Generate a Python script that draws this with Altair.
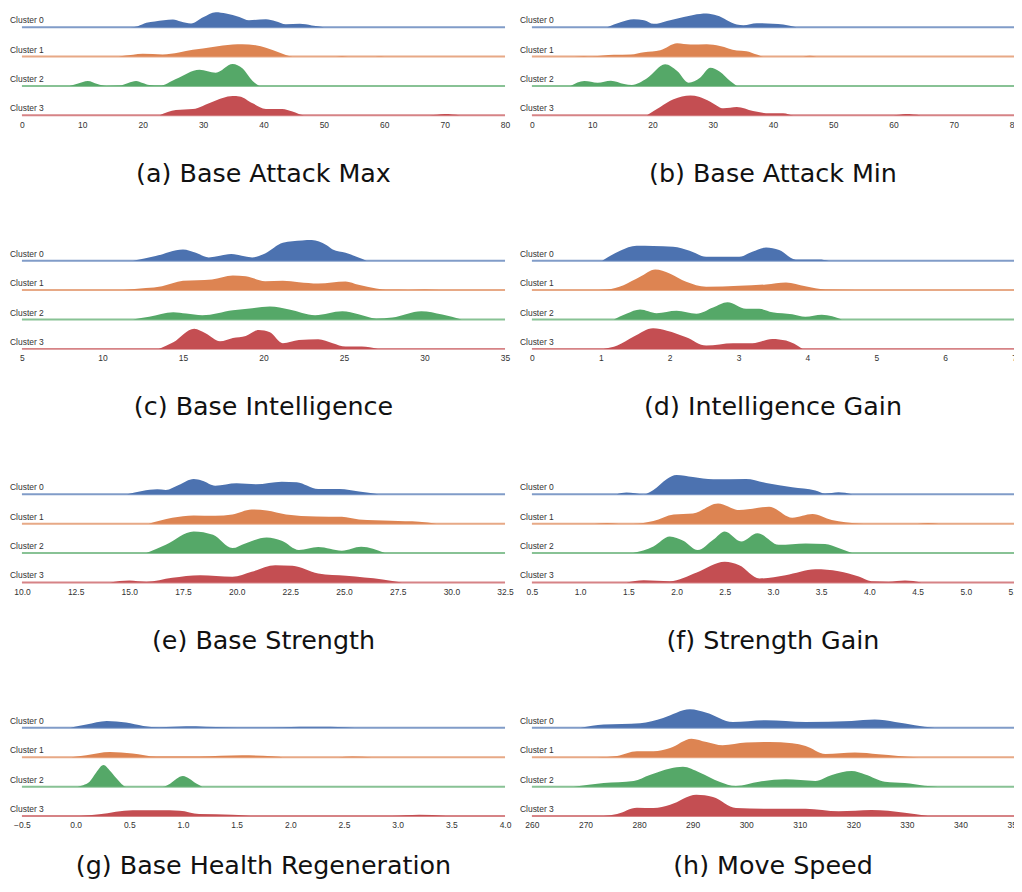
import altair as alt
import pandas as pd

CLUSTERS = ["Cluster 0", "Cluster 1", "Cluster 2", "Cluster 3"]
COLORS = ["#4C72B0", "#DD8452", "#55A868", "#C44E52"]

# ---- (a) Base Attack Max : (value, relative density)
atk_max_c0 = [(18, 0), (19.2, 1), (20.6, 4.3), (22, 5.7), (25, 7.7), (26.3, 5.7), (28, 3.7), (30, 10), (32.1, 15),
              (33.8, 13.7), (36, 10.3), (37.6, 7), (40.4, 8), (42, 6), (43.7, 3), (46, 3.3), (48, 1.7), (50, 0)]
atk_max_c1 = [(16, 0), (18.4, 1.7), (20, 2.7), (23.3, 2), (26, 4), (28.3, 6.7), (31.6, 9.7), (34.9, 12), (36.5, 12.3),
              (38.7, 11.3), (40.4, 8.7), (42.6, 4), (44.8, 0), (52, 0), (53, 0.5), (54, 0), (58, 0), (59, 0.4), (60, 0)]
atk_max_c2 = [(7.9, 0), (9.3, 2.5), (10.9, 5), (12.5, 2), (14, 0), (16.2, 0.3), (17.6, 3), (18.9, 5), (20, 3), (21.1, 1),
              (22.8, 0.3), (25.5, 7), (29.4, 16.3), (32.1, 13.3), (34.9, 22), (36.5, 17.7), (38.2, 5), (39.3, 0)]
atk_max_c3 = [(22.8, 0), (25.5, 5.3), (28.3, 6.3), (31.6, 13.7), (34.9, 19.3), (36, 19), (38.2, 12), (40.4, 6.3),
              (43.1, 6.3), (44.8, 3.7), (46.7, 0), (67.5, 0), (70, 1.3), (72.5, 0)]

# ---- (b) Base Attack Min
atk_min_c0 = [(12.5, 0), (14.7, 5), (16.9, 8), (18.6, 7), (20.2, 3.3), (22.4, 6.3), (25.2, 10.3), (26.8, 12.3), (29, 13.7),
              (30.7, 11.7), (34, 2.7), (35.1, 2), (37.3, 4), (40, 3.3), (41.7, 2.7), (43.9, 0)]
atk_min_c1 = [(7, 0), (8.6, 0.5), (10, 0.2), (13.6, 1.7), (16.4, 2), (18.6, 4.3), (21.3, 6.3), (24.1, 13.3), (26.3, 12),
              (29, 12.3), (31.2, 10.7), (34, 6), (35.6, 5.3), (37.3, 2), (38.4, 0), (45, 0), (46.1, 0.7), (47.2, 0)]
atk_min_c2 = [(6.4, 0), (8.7, 5), (10.9, 3.3), (13.1, 5.3), (15.3, 2), (16.6, 1), (19.1, 7.7), (22.1, 21.7), (24.1, 15),
              (26, 3.3), (27.9, 8.3), (29.6, 18.3), (31.2, 14.3), (32.9, 5), (34, 0)]
atk_min_c3 = [(19.1, 0), (21.3, 8.3), (23.5, 16), (26.3, 20), (27.7, 18.7), (29.6, 13.7), (31.8, 7), (34, 8.3), (36.7, 4.3),
              (39.5, 2), (41.7, 2), (43.4, 0), (60, 0), (62, 1.3), (64.5, 0)]

# ---- (c) Base Intelligence
int_c0 = [(11.9, 0), (13.3, 4.7), (15, 11.3), (15.8, 8), (16.6, 3.3), (18, 6.7), (19.3, 3.3), (20.1, 7.3), (21.2, 18),
          (22.4, 20.3), (23, 20.7), (23.9, 15.7), (24.3, 11.3), (25.1, 8), (25.9, 3.3), (26.4, 0)]
int_c1 = [(11.3, 0), (12.7, 2), (13.7, 4), (15, 9.3), (16.8, 10.7), (18.1, 14.7), (18.9, 14), (20.1, 9), (21.2, 9.3),
          (22.2, 8), (23.4, 6.7), (25.1, 8.7), (25.9, 5.3), (27, 1.7), (27.8, 0.3), (29, 0.2), (30, 0.5), (30.9, 0)]
int_c2 = [(11.9, 0), (12.9, 2.7), (14.4, 7.3), (15.2, 6), (16.2, 4.3), (18.1, 9.3), (19.3, 11.3), (20.4, 13), (21.6, 10),
          (23.2, 4.3), (24.9, 8.3), (25.9, 5.3), (27, 1), (28, 2), (29.8, 8.3), (31.1, 5), (32.3, 0)]
int_c3 = [(13.5, 0), (14.4, 6.7), (15.7, 20.3), (16.4, 15.7), (17.3, 7.7), (18.1, 11), (18.9, 13), (19.7, 19), (20.4, 16.7),
          (21.2, 5.7), (22.2, 9), (23.4, 9.7), (24.3, 5.7), (25.1, 2.3), (26.1, 2.3), (27.1, 0)]

# ---- (d) Intelligence Gain
intg_c0 = [(1.02, 0), (1.28, 10), (1.52, 15), (1.76, 14.7), (2.05, 14), (2.29, 10), (2.53, 4), (3.01, 4), (3.2, 9),
           (3.4, 13.3), (3.59, 10.7), (3.83, 1.3), (4.17, 1.3), (4.31, 0)]
intg_c1 = [(0.85, 0), (1.09, 0.7), (1.33, 5), (1.57, 13.3), (1.79, 20.7), (2, 16.7), (2.24, 8.3), (2.53, 3.3), (3.01, 4.3),
           (3.4, 5.7), (3.69, 7.7), (3.97, 4), (4.26, 0.7), (4.7, 0.2), (5.2, 0.2), (5.4, 0)]
intg_c2 = [(1.19, 0), (1.38, 6), (1.57, 10), (1.81, 6.3), (2.1, 8.7), (2.39, 5.7), (2.63, 12), (2.84, 17.3), (3.11, 10.7),
           (3.3, 10.7), (3.49, 7.3), (3.78, 5.3), (3.97, 2.7), (4.21, 4.7), (4.36, 3.3), (4.5, 0)]
intg_c3 = [(1.04, 0), (1.24, 3.3), (1.48, 12.3), (1.76, 20.7), (1.96, 18.3), (2.24, 11.7), (2.53, 3.3), (2.92, 5.7),
           (3.2, 5.7), (3.49, 10), (3.69, 8.3), (3.93, 0)]

# ---- (e) Base Strength
str_c0 = [(14.9, 0), (15.6, 3.3), (16.3, 5), (16.7, 4.3), (17.3, 9.3), (18, 15.3), (18.4, 13.7), (19, 8.7), (20, 11),
          (20.9, 10), (22.1, 12.7), (22.8, 12), (23.8, 5.3), (24.8, 5.3), (25.7, 2.7), (26.6, 0)]
str_c1 = [(15.9, 0), (17, 6), (18, 8.3), (19, 8), (19.8, 9.3), (20.7, 14.3), (21.4, 13.3), (22.3, 9.3), (23.7, 7.3),
          (24.9, 7), (25.7, 4.3), (27.2, 3), (28.5, 2), (29.3, 0)]
str_c2 = [(15.8, 0), (16.7, 8.3), (18, 21.7), (18.9, 18.3), (19.8, 5), (20.4, 9.7), (21.4, 15.7), (22.1, 12.3), (22.9, 3),
          (23.8, 6), (24.9, 2.3), (25.8, 6.3), (26.9, 0)]
str_c3 = [(14.1, 0), (15, 2), (15.8, 0.7), (17, 4.7), (18.3, 7.3), (19.8, 5.7), (20.7, 10.7), (21.8, 17.3), (22.6, 16.7),
          (23.8, 9), (25.1, 6.7), (26.8, 3), (27.7, 0)]

# ---- (f) Strength Gain
strg_c0 = [(1.38, 0), (1.48, 1.7), (1.66, 0), (1.76, 4.3), (1.9, 15.3), (2, 19.3), (2.17, 17.3), (2.38, 15), (2.72, 15.3),
           (2.93, 11.3), (3.2, 7), (3.44, 3.7), (3.54, 0.7), (3.68, 2), (3.82, 0)]
strg_c1 = [(1.15, 0), (1.28, 0.7), (1.4, 0), (1.55, 0), (1.76, 2.7), (1.97, 9.3), (2.17, 10.3), (2.43, 20.3), (2.65, 13.7),
           (2.96, 17), (3.2, 6), (3.41, 9.7), (3.61, 3.7), (3.89, 0.3), (4.0, 0), (4.5, 0), (4.61, 0.7), (4.72, 0)]
strg_c2 = [(1.55, 0), (1.76, 6.7), (1.93, 16.7), (2.07, 12.3), (2.22, 3), (2.38, 13.3), (2.5, 21.7), (2.67, 11.7),
           (2.84, 20), (3.06, 8.3), (3.34, 9.7), (3.54, 9), (3.68, 5), (3.82, 0)]
strg_c3 = [(1.48, 0), (1.66, 2.3), (1.93, 1.3), (2.21, 10), (2.5, 20.7), (2.65, 17.3), (2.86, 4), (3.13, 7.3), (3.44, 13.3),
           (3.68, 11.3), (3.89, 6), (4.02, 1.3), (4.2, 0.8), (4.37, 2), (4.54, 0)]

# ---- (g) Base Health Regeneration
hp_c0 = [(-0.05, 0), (0.1, 3.3), (0.29, 7), (0.47, 5.3), (0.63, 2), (0.78, 0.7), (1.03, 1.7), (1.4, 0.7), (1.62, 0.3),
         (1.93, 0.7), (2.24, 1), (2.51, 0.7), (2.6, 0)]
hp_c1 = [(-0.04, 0), (0.1, 2), (0.32, 5.3), (0.53, 3.7), (0.75, 0.7), (1.15, 0.8), (1.55, 2), (1.83, 1), (1.96, 0),
         (2.45, 0), (2.58, 0.7), (2.76, 0)]
hp_c2 = [(0.02, 0), (0.07, 1.5), (0.13, 5), (0.19, 14), (0.26, 21.7), (0.32, 16), (0.38, 8.3), (0.43, 2.5), (0.47, 0),
         (0.81, 0), (0.88, 3), (0.94, 8), (1.0, 10.7), (1.06, 8), (1.12, 3.3), (1.18, 0)]
hp_c3 = [(0.04, 0), (0.22, 1.7), (0.53, 5.7), (0.78, 5.7), (0.97, 5.3), (1.15, 2), (1.46, 1.3), (1.68, 0), (2.95, 0),
         (3.2, 1.2), (3.45, 0)]

# ---- (h) Move Speed
ms_c0 = [(269.1, 0), (273.4, 3.3), (280.2, 4.7), (284.5, 10), (289.5, 18.7), (292.6, 15.3), (297.5, 6), (303.7, 7.7),
         (311.1, 6), (319.7, 7), (324, 8.3), (327.8, 6), (331.5, 2.7), (335.2, 0)]
ms_c1 = [(272.2, 0), (275.9, 1.3), (279.6, 6), (282.7, 6), (285.8, 9.3), (289.8, 18.7), (292.6, 15.3), (295.6, 12),
         (300, 14.7), (304.3, 15.3), (308.6, 14), (311.1, 11.3), (314.8, 3.3), (320.3, 4.7), (324.7, 3), (328.4, 1.3),
         (332.1, 0)]
ms_c2 = [(267.8, 0), (273.4, 3.7), (279, 5.7), (282, 11.7), (285.8, 18.3), (288.2, 20), (291.3, 14.3), (295, 5),
         (298.1, 0.7), (302.4, 5), (307.4, 7.3), (312.9, 5.7), (316, 11.7), (319.7, 15.7), (322.2, 12.3), (325.9, 5),
         (329.6, 3.7), (333.3, 1), (335.8, 0)]
ms_c3 = [(273.4, 0), (275.9, 2), (279.6, 8.3), (282.7, 8), (285.8, 11.3), (290.7, 21.3), (293.8, 19), (298.1, 8),
         (304.9, 7.3), (311.1, 7.3), (317.3, 4.7), (323.4, 6), (329.6, 3.3), (333.9, 0)]

# tick labels
ticks_atk = [0, 10, 20, 30, 40, 50, 60, 70, 80]
ticks_int = [5, 10, 15, 20, 25, 30, 35]
ticks_intg = [0, 1, 2, 3, 4, 5, 6, 7]
ticks_str = [10.0, 12.5, 15.0, 17.5, 20.0, 22.5, 25.0, 27.5, 30.0, 32.5]
ticks_strg = [0.5, 1.0, 1.5, 2.0, 2.5, 3.0, 3.5, 4.0, 4.5, 5.0, 5.5]
ticks_hp = [-0.5, 0.0, 0.5, 1.0, 1.5, 2.0, 2.5, 3.0, 3.5, 4.0]
ticks_ms = [260, 270, 280, 290, 300, 310, 320, 330, 340, 350]

titles = ["(a) Base Attack Max", "(b) Base Attack Min", "(c) Base Intelligence", "(d) Intelligence Gain",
          "(e) Base Strength", "(f) Strength Gain", "(g) Base Health Regeneration", "(h) Move Speed"]

STEP = 29.5      # vertical gap between ridge baselines (y units)
TOP = 106        # y-domain maximum
W_LEFT, W_RIGHT = 485, 484


def panel(title, ticks, fmt, curves, width, title_offset):
    rows = []
    for k, pts in enumerate(curves):
        for x, d in pts:
            rows.append({"cluster": CLUSTERS[k], "x": x, "d": d, "base": (3 - k) * STEP})
    df = pd.DataFrame(rows)
    lab = pd.DataFrame({"cluster": CLUSTERS, "base": [(3 - k) * STEP for k in range(4)]})
    xs = alt.Scale(domain=[ticks[0], ticks[-1]], nice=False, zero=False)
    ys = alt.Scale(domain=[0, TOP], nice=False, zero=False)
    color = alt.Color("cluster:N", scale=alt.Scale(domain=CLUSTERS, range=COLORS), legend=None)
    xaxis = alt.Axis(values=ticks, format=fmt, title=None, grid=False, domain=False, ticks=False,
                     labelPadding=5, labelFontSize=8.5, labelColor="#333333", labelFont="Liberation Sans",
                     labelOverlap=False, labelFlush=False)
    rules = alt.Chart(lab).mark_rule(strokeWidth=2, opacity=0.7).encode(
        x=alt.value(0), x2=alt.value(width),
        y=alt.Y("base:Q", scale=ys, axis=None), color=color)
    areas = alt.Chart(df).transform_calculate(top="datum.base + datum.d").mark_area(
        interpolate="monotone", opacity=1).encode(
        x=alt.X("x:Q", scale=xs, axis=xaxis),
        y=alt.Y("top:Q", scale=ys, axis=None), y2="base:Q", color=color)
    labels = alt.Chart(lab).mark_text(align="left", baseline="alphabetic", dy=-4, fontSize=8.5,
                                      font="Liberation Sans", color="#333333").encode(
        x=alt.value(-12), y=alt.Y("base:Q", scale=ys, axis=None), text="cluster:N")
    return alt.layer(rules, areas, labels).properties(
        width=width, height=TOP,
        title=alt.TitleParams(text=title, orient="bottom", anchor="middle", fontSize=25.5,
                              font="DejaVu Sans", fontWeight="normal", color="#111111",
                              offset=title_offset))


specs = [
    (ticks_atk, "d", [atk_max_c0, atk_max_c1, atk_max_c2, atk_max_c3]),
    (ticks_atk, "d", [atk_min_c0, atk_min_c1, atk_min_c2, atk_min_c3]),
    (ticks_int, "d", [int_c0, int_c1, int_c2, int_c3]),
    (ticks_intg, "d", [intg_c0, intg_c1, intg_c2, intg_c3]),
    (ticks_str, ".1f", [str_c0, str_c1, str_c2, str_c3]),
    (ticks_strg, ".1f", [strg_c0, strg_c1, strg_c2, strg_c3]),
    (ticks_hp, ".1f", [hp_c0, hp_c1, hp_c2, hp_c3]),
    (ticks_ms, "d", [ms_c0, ms_c1, ms_c2, ms_c3]),
]

panels = []
for i in range(8):
    width = W_LEFT if i % 2 == 0 else W_RIGHT
    # last row captions sit a little higher so the page does not overflow the window
    offset = 33 if i < 6 else 25
    panels.append(panel(titles[i], *specs[i], width, offset))

chart = alt.concat(*panels, columns=2, bounds="flush",
                   spacing=alt.RowColnumber(row=128.5, column=27)).properties(
    padding={"left": 2, "top": 0, "right": -8, "bottom": -3},
    background="white",
).configure_view(stroke=None)

chart.save("out.html", embed_options={"renderer": "svg", "actions": False})
